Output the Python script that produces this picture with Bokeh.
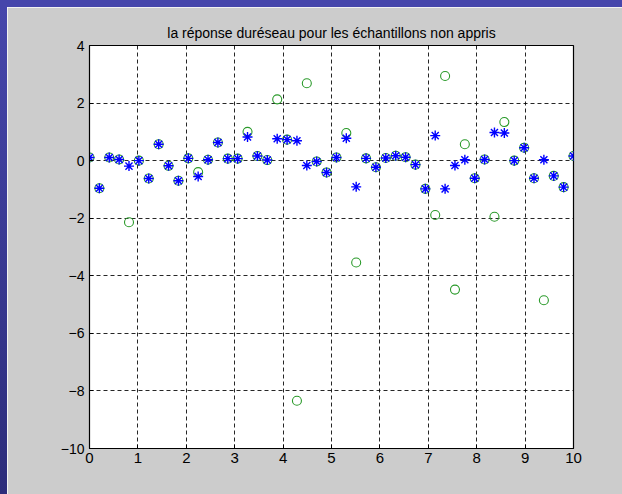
from bokeh.plotting import figure
from bokeh.models import FixedTicker, Range1d, Div
from bokeh.layouts import column, row
from bokeh.embed import file_html
from bokeh.resources import INLINE

x_vals = [0.0, 0.204, 0.408, 0.612, 0.816, 1.020, 1.224, 1.429, 1.633, 1.837,
          2.041, 2.245, 2.449, 2.653, 2.857, 3.061, 3.265, 3.469, 3.673, 3.878,
          4.082, 4.286, 4.490, 4.694, 4.898, 5.102, 5.306, 5.510, 5.714, 5.918,
          6.122, 6.327, 6.531, 6.735, 6.939, 7.143, 7.347, 7.551, 7.755, 7.959,
          8.163, 8.367, 8.571, 8.776, 8.980, 9.184, 9.388, 9.592, 9.796, 10.0]

reseau = [0.11, -0.96, 0.11, 0.04, -0.19, 0.00, -0.62, 0.57, -0.18, -0.70,
          0.08, -0.55, 0.03, 0.63, 0.07, 0.07, 0.82, 0.16, 0.02, 0.76,
          0.73, 0.69, -0.17, -0.03, -0.41, 0.11, 0.78, -0.91, 0.08, -0.23,
          0.09, 0.17, 0.12, -0.14, -0.98, 0.87, -0.98, -0.17, 0.03, -0.61,
          0.04, 0.98, 0.96, 0.00, 0.45, -0.61, 0.03, -0.53, -0.92, 0.16]

cible = [0.11, -0.96, 0.11, 0.04, -2.14, 0.00, -0.62, 0.57, -0.18, -0.70,
         0.08, -0.40, 0.03, 0.63, 0.07, 0.07, 1.00, 0.16, 0.02, 2.13,
         0.73, -8.34, 2.69, -0.03, -0.41, 0.11, 0.96, -3.54, 0.08, -0.23,
         0.09, 0.17, 0.12, -0.14, -0.98, -1.89, 2.94, -4.48, 0.57, -0.61,
         0.04, -1.95, 1.34, 0.00, 0.45, -0.61, -4.85, -0.53, -0.92, 0.16]

x_ticks = [0, 1, 2, 3, 4, 5, 6, 7, 8, 9, 10]
y_ticks = [-10, -8, -6, -4, -2, 0, 2, 4]
title_text = "la réponse duréseau pour les échantillons non appris"

p = figure(width=615, height=487, output_backend="svg", toolbar_location=None,
           x_range=Range1d(0, 10), y_range=Range1d(-10, 4),
           min_border_left=82, min_border_right=49, min_border_top=38,
           min_border_bottom=46, title=title_text)

p.border_fill_color = "#cccccc"
p.background_fill_color = "white"
p.outline_line_color = "black"
p.outline_line_width = 1.2

p.title.align = "center"
p.title.text_font = "Liberation Sans"
p.title.text_font_size = "14px"
p.title.text_font_style = "normal"
p.title.text_color = "black"
p.title.standoff = 10

for ax in (p.xaxis, p.yaxis):
    ax.axis_line_color = "black"
    ax.major_tick_in = 4
    ax.major_tick_out = 0
    ax.minor_tick_line_color = None
    ax.major_tick_line_color = "black"
    ax.major_label_text_font = "Liberation Sans"
    ax.major_label_text_color = "black"

p.xaxis.ticker = FixedTicker(ticks=x_ticks)
p.yaxis.ticker = FixedTicker(ticks=y_ticks)
p.xaxis.major_label_text_font_size = "15px"
p.yaxis.major_label_text_font_size = "14px"
p.xaxis.major_label_standoff = 4
p.yaxis.major_label_standoff = 5

for g in (p.xgrid, p.ygrid):
    g.grid_line_color = "black"
    g.grid_line_dash = "4 3"
    g.grid_line_width = 1
    g.grid_line_alpha = 0.85
p.xgrid.ticker = FixedTicker(ticks=x_ticks)
p.ygrid.ticker = FixedTicker(ticks=y_ticks)

p.scatter(x_vals, cible, marker="circle", size=9, fill_color=None,
          line_color="#2a9a2a", line_width=1.1)
p.scatter(x_vals, reseau, marker="asterisk", size=10,
          line_color="#0000ff", line_width=1.4)

# blue slide frame around the MATLAB figure (top and left strips)
top_strip = Div(text="", width=622, height=7, margin=0,
                styles={"background-color": "#4646ab"})
left_strip = Div(text="", width=7, height=487, margin=0,
                 styles={"background": "linear-gradient(#4646ab, #2c2c7a)"})

page = column(top_strip, row(left_strip, p, spacing=0, margin=0),
              spacing=0, margin=0)

open("out.html", "w").write(file_html(page, INLINE))
